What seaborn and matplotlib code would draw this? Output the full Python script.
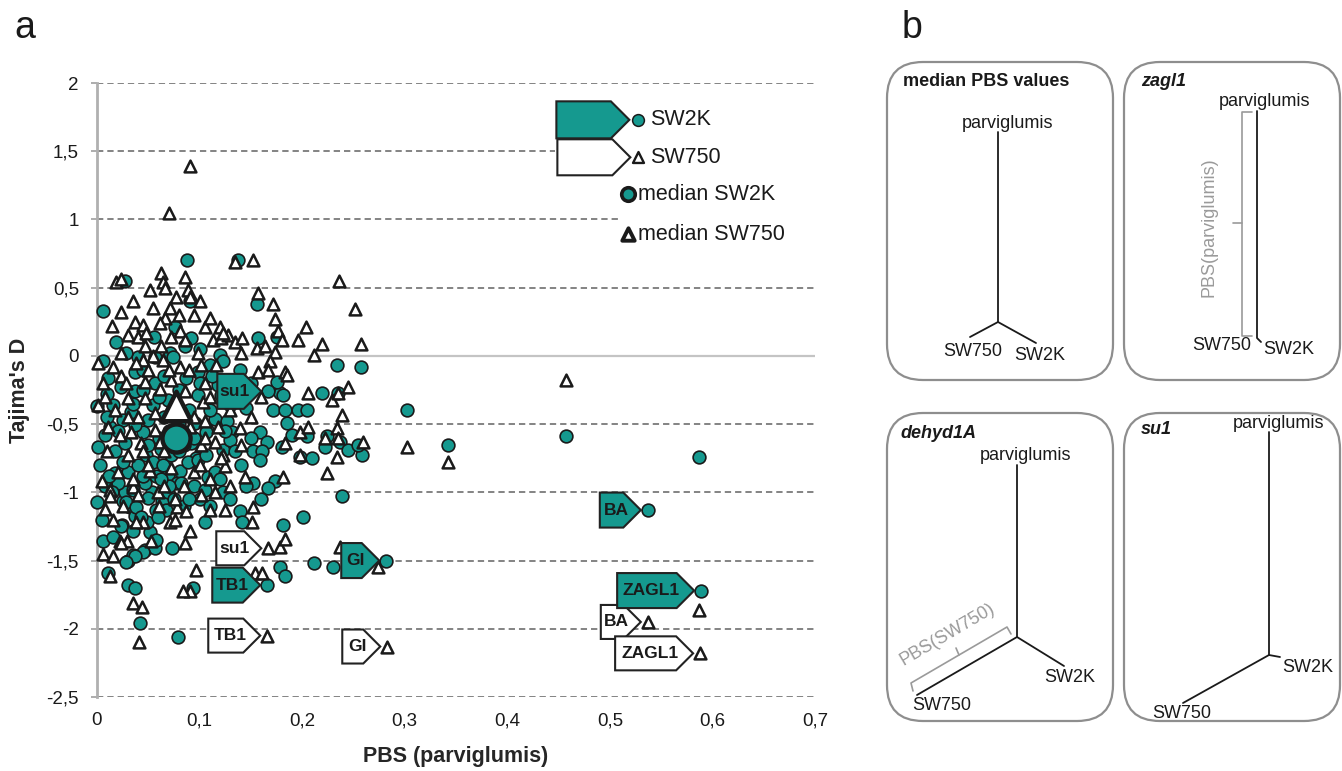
import matplotlib
matplotlib.use("Agg")
import matplotlib.pyplot as plt
import seaborn as sns
import pandas as pd
from matplotlib.patches import Polygon, FancyBboxPatch, Rectangle
from matplotlib import transforms

# ---------------- data ----------------
# SW2K (circles): (PBS parviglumis, Tajima's D)
sw2k_points = [
    (0.088, 0.70), (0.027, 0.55), (0.137, 0.70), (0.006, 0.33), (0.091, 0.40), (0.156, 0.38),
    (0.157, 0.13), (0.175, 0.14), (0.234, -0.07), (0.257, -0.08), (0.302, -0.40), (0.342, -0.65),
    (0.457, -0.59), (0.587, -0.74),
    (0.019, 0.10), (0.056, 0.14), (0.076, 0.21), (0.092, 0.13), (0.071, 0.02), (0.040, -0.01),
    (0.086, 0.07), (0.120, 0.01), (0.139, -0.10), (0.219, -0.27), (0.235, -0.27), (0.172, -0.40),
    (0.183, -0.40), (0.196, -0.40), (0.205, -0.40), (0.185, -0.49), (0.159, -0.56), (0.166, -0.63),
    (0.152, -0.70), (0.161, -0.70), (0.180, -0.67), (0.205, -0.59), (0.222, -0.67), (0.237, -0.63),
    (0.245, -0.69), (0.258, -0.73), (0.198, -0.74), (0.115, -0.46), (0.127, -0.48), (0.132, -0.56),
    (0.107, -0.54), (0.097, -0.75), (0.123, -0.69), (0.178, -0.27), (0.175, -0.19), (0.181, -0.29),
    (0.224, -0.59), (0.254, -0.65), (0.159, -0.76), (0.174, -0.92), (0.167, -0.97), (0.152, -0.93),
    (0.123, -1.00), (0.239, -1.03), (0.130, -0.62),
    (0.003, -0.80), (0.008, -0.95), (0.000, -1.07), (0.018, -0.86), (0.025, -1.06), (0.032, -1.11),
    (0.005, -1.20), (0.024, -1.24), (0.037, -1.17), (0.052, -1.29), (0.006, -1.36), (0.016, -1.33),
    (0.030, -1.50), (0.035, -1.46), (0.047, -1.42), (0.057, -1.41), (0.073, -1.41), (0.058, -1.35),
    (0.049, -1.22), (0.058, -1.13), (0.063, -1.06), (0.069, -1.00), (0.027, -1.00), (0.054, -1.00),
    (0.069, -0.87), (0.078, -0.93), (0.081, -0.84), (0.139, -1.14), (0.141, -1.22), (0.105, -1.22),
    (0.181, -1.24), (0.201, -1.18), (0.178, -1.55), (0.183, -1.61), (0.212, -1.52), (0.230, -1.55),
    (0.011, -1.59), (0.030, -1.68), (0.037, -1.70), (0.094, -1.70), (0.042, -1.96), (0.079, -2.06),
    (0.037, -0.12), (0.011, -0.16), (0.057, -0.01), (0.074, -0.01), (0.098, -0.29), (0.001, -0.67),
    (0.018, -0.70), (0.027, -0.64), (0.048, -0.73), (0.055, -0.78), (0.064, -0.80), (0.072, -0.73),
    (0.089, -0.78), (0.098, -0.76), (0.106, -0.73), (0.096, -0.49), (0.106, -0.56), (0.092, -0.64),
    (0.025, -0.47), (0.016, -0.36), (0.033, -0.41), (0.045, -0.56), (0.037, -0.51), (0.055, -0.36),
    (0.023, -0.23), (0.037, -0.26), (0.057, -0.20), (0.069, -0.32), (0.087, -0.16), (0.098, -0.12),
    (0.110, -0.07), (0.123, -0.04), (0.118, -0.21), (0.130, -0.36), (0.121, -0.29), (0.006, -0.04),
    (0.000, -0.37),
    (0.020, -0.93), (0.028, -1.07), (0.038, -1.11), (0.067, -1.13), (0.059, -1.18), (0.043, -1.18),
    (0.023, -1.25), (0.035, -1.28), (0.045, -1.44), (0.037, -1.47), (0.028, -1.51), (0.082, -0.93),
    (0.047, -0.93), (0.108, -0.89), (0.050, -1.04),
    (0.065, -0.45), (0.080, -0.50), (0.085, -0.65), (0.060, -0.60), (0.110, -0.40), (0.115, -0.85),
    (0.095, -0.95), (0.013, -0.52), (0.010, -0.28), (0.045, -0.88), (0.030, -0.85), (0.075, -1.05),
    (0.085, -1.10), (0.100, -1.05), (0.140, -0.80), (0.145, -0.38), (0.150, -0.20), (0.190, -0.58),
    (0.210, -0.75), (0.160, -1.05), (0.015, -1.00), (0.062, -0.68), (0.070, -0.55), (0.050, -0.47),
    (0.010, -0.45), (0.020, -0.55), (0.035, -0.35), (0.045, -0.25), (0.060, -0.30), (0.075, -0.40),
    (0.090, -0.40), (0.100, -0.20), (0.112, -0.15), (0.125, -0.55), (0.120, -0.90), (0.105, -0.98),
    (0.090, -1.05), (0.070, -0.95), (0.058, -0.88), (0.040, -0.80), (0.025, -0.78), (0.012, -0.88),
    (0.008, -0.58), (0.050, -0.65), (0.080, -0.70), (0.095, -0.60), (0.065, -0.15), (0.080, -0.25),
    (0.045, -0.10), (0.028, 0.02), (0.100, 0.05), (0.062, -0.90), (0.035, -0.98), (0.110, -1.10),
    (0.130, -1.05), (0.145, -0.95), (0.135, -0.70), (0.150, -0.60),
]

# SW750 (triangles)
sw750_points = [
    (0.091, 1.39), (0.070, 1.05), (0.152, 0.70), (0.135, 0.69), (0.236, 0.55), (0.252, 0.34),
    (0.257, 0.09), (0.212, 0.01), (0.219, 0.09), (0.457, -0.18), (0.302, -0.67), (0.342, -0.78),
    (0.274, -1.55), (0.587, -1.86),
    (0.019, 0.54), (0.023, 0.56), (0.062, 0.61), (0.064, 0.54), (0.052, 0.48), (0.066, 0.50),
    (0.086, 0.58), (0.089, 0.48), (0.091, 0.43), (0.077, 0.43), (0.071, 0.35), (0.066, 0.28),
    (0.023, 0.32), (0.037, 0.25), (0.045, 0.23), (0.030, 0.15), (0.040, 0.14), (0.048, 0.17),
    (0.061, 0.24), (0.072, 0.14), (0.081, 0.18), (0.086, 0.12), (0.105, 0.21), (0.120, 0.21),
    (0.113, 0.12), (0.121, 0.13), (0.128, 0.15), (0.135, 0.10), (0.047, 0.07), (0.023, 0.02),
    (0.062, 0.07), (0.098, 0.02),
    (0.157, 0.46), (0.172, 0.38), (0.174, 0.27), (0.204, 0.21), (0.176, 0.18), (0.180, 0.12),
    (0.196, 0.12), (0.141, 0.13), (0.156, 0.06), (0.164, 0.07), (0.174, 0.03), (0.123, 0.17),
    (0.169, -0.04), (0.183, -0.12), (0.157, -0.12), (0.167, -0.10),
    (0.185, -0.14), (0.206, -0.27), (0.229, -0.32), (0.235, -0.27), (0.245, -0.23), (0.239, -0.43),
    (0.198, -0.56), (0.206, -0.52), (0.234, -0.53), (0.235, -0.60), (0.222, -0.60), (0.259, -0.63),
    (0.183, -0.64), (0.198, -0.73), (0.234, -0.74), (0.224, -0.86), (0.144, -0.89), (0.181, -0.89),
    (0.139, -0.53), (0.123, -0.73), (0.125, -0.81), (0.152, -1.11),
    (0.013, -0.98), (0.035, -0.96), (0.040, -1.02), (0.016, -1.20), (0.045, -1.22), (0.022, -1.36),
    (0.029, -1.36), (0.006, -1.45), (0.016, -1.47), (0.013, -1.61), (0.035, -1.81), (0.044, -1.84),
    (0.041, -2.10), (0.086, -1.37), (0.091, -1.28), (0.097, -1.57), (0.091, -1.72), (0.084, -1.72),
    (0.110, -1.13), (0.125, -1.13), (0.151, -1.22), (0.178, -1.40), (0.183, -1.34), (0.154, -1.59),
    (0.161, -1.59), (0.237, -1.40), (0.052, -0.84), (0.071, -1.22), (0.078, -1.11), (0.005, -0.92),
    (0.001, -0.05), (0.016, -0.08), (0.023, -0.15), (0.006, -0.20), (0.001, -0.36), (0.045, -0.03),
    (0.064, -0.03), (0.081, -0.08), (0.101, -0.07), (0.116, -0.07), (0.047, -0.19), (0.061, -0.24),
    (0.072, -0.18), (0.086, -0.26), (0.105, -0.20), (0.103, -0.34), (0.047, -0.31), (0.030, -0.31),
    (0.057, -0.42), (0.040, -0.45), (0.011, -0.52), (0.022, -0.58), (0.033, -0.56), (0.057, -0.54),
    (0.061, -0.63), (0.043, -0.64), (0.091, -0.52), (0.086, -0.42), (0.105, -0.48), (0.118, -0.52),
    (0.115, -0.63), (0.101, -0.65), (0.030, -0.73), (0.072, -0.82), (0.121, -0.75), (0.050, -0.80),
    (0.013, -1.03), (0.059, -1.00), (0.076, -1.05), (0.101, -1.02), (0.038, -1.22), (0.076, -1.20),
    (0.087, -1.14), (0.023, -1.37), (0.053, -1.36),
    (0.010, -0.70), (0.080, -0.35), (0.095, -0.85), (0.110, -0.90), (0.065, -0.95), (0.030, -0.45),
    (0.130, -0.40), (0.140, -0.25), (0.150, -0.45), (0.160, -0.30), (0.095, 0.30), (0.110, 0.28),
    (0.140, 0.02),
    (0.008, -0.30), (0.018, -0.40), (0.028, -0.20), (0.038, -0.05), (0.055, 0.00), (0.070, -0.10),
    (0.090, -0.10), (0.110, -0.30), (0.125, -0.25), (0.095, -0.45), (0.075, -0.55), (0.065, -0.70),
    (0.045, -0.70), (0.020, -0.85), (0.035, -0.90), (0.085, -0.95), (0.100, -0.80), (0.115, -1.00),
    (0.060, -1.10), (0.025, -1.10), (0.008, -1.12), (0.050, -0.10), (0.015, 0.22), (0.055, 0.35),
    (0.080, 0.30), (0.100, 0.40), (0.035, 0.40), (0.130, -0.95), (0.140, -0.65), (0.105, -0.60),
]

# labelled candidate genes
genes = ["su1", "TB1", "GI", "BA", "ZAGL1"]
genes_sw2k_pbs = [0.167, 0.166, 0.282, 0.537, 0.589]
genes_sw2k_tajd = [-0.26, -1.68, -1.50, -1.13, -1.72]
genes_sw750_pbs = [0.167, 0.166, 0.283, 0.537, 0.588]
genes_sw750_tajd = [-1.41, -2.05, -2.13, -1.95, -2.18]

# medians
median_sw2k = (0.077, -0.60)
median_sw750 = (0.077, -0.37)

x_ticks = [0, 0.1, 0.2, 0.3, 0.4, 0.5, 0.6, 0.7]
x_ticklabels = ["0", "0,1", "0,2", "0,3", "0,4", "0,5", "0,6", "0,7"]
y_ticks = [2, 1.5, 1, 0.5, 0, -0.5, -1, -1.5, -2, -2.5]
y_ticklabels = ["2", "1,5", "1", "0,5", "0", "-0,5", "-1", "-1,5", "-2", "-2,5"]

# ---------------- style ----------------
TEAL = "#15998F"
EDGE = "#1a1a1a"
GRAYBOX = "#8e8e8e"
sns.set_theme(style="white")
plt.rcParams["font.family"] = ["Liberation Sans", "DejaVu Sans"]

W, H = 1342, 771
fig = plt.figure(figsize=(W / 100, H / 100), dpi=100)
bg = fig.add_axes([0, 0, 1, 1])
bg.set_xlim(0, W)
bg.set_ylim(H, 0)
bg.axis("off")

ax = fig.add_axes([97 / W, 1 - 697 / H, 718 / W, 614 / H])

df2k = pd.DataFrame(sw2k_points + list(zip(genes_sw2k_pbs, genes_sw2k_tajd)), columns=["pbs", "tajd"])
df750 = pd.DataFrame(sw750_points + list(zip(genes_sw750_pbs, genes_sw750_tajd)), columns=["pbs", "tajd"])

sns.scatterplot(data=df2k, x="pbs", y="tajd", ax=ax, marker="o", s=84, color=TEAL,
                edgecolor=EDGE, linewidth=1.2, zorder=3, clip_on=False, legend=False)
sns.scatterplot(data=df750, x="pbs", y="tajd", ax=ax, marker="^", s=72, color="white",
                edgecolor=EDGE, linewidth=1.8, zorder=3.1, clip_on=False, legend=False)
ax.scatter([median_sw750[0]], [median_sw750[1]], marker="^", s=450, c="white",
           edgecolors=EDGE, linewidths=3.2, zorder=6)
ax.scatter([median_sw2k[0]], [median_sw2k[1]], marker="o", s=410, c=TEAL,
           edgecolors=EDGE, linewidths=3.2, zorder=6)

ax.set_xlim(0, 0.7)
ax.set_ylim(-2.5, 2)
ax.set_xticks(x_ticks)
ax.set_xticklabels(x_ticklabels)
ax.set_yticks(y_ticks)
ax.set_yticklabels(y_ticklabels)
ax.tick_params(axis="x", length=0, pad=11, labelsize=13.5, colors="#1a1a1a")
ax.tick_params(axis="y", length=4, width=1.2, color="#a0a0a0", pad=9, labelsize=13.5,
               labelcolor="#1a1a1a", left=True)
for yv in y_ticks:
    if yv == 0:
        ax.axhline(yv, color="#c4c4c4", lw=1.6, zorder=1)
    else:
        ax.axhline(yv, color="#7a7a7a", lw=1.3, ls=(0, (3.5, 2.2)), zorder=1)
for s in ["top", "right", "bottom"]:
    ax.spines[s].set_visible(False)
ax.spines["left"].set_color("#b0b0b0")
ax.spines["left"].set_linewidth(2)
ax.set_xlabel("PBS (parviglumis)", fontsize=15.5, fontweight="bold", labelpad=12)
ax.set_ylabel("Tajima's D", fontsize=15.5, fontweight="bold", labelpad=12)


def tag(x, y, label, filled, w, h=34, gap=7, trans=None, fontsize=12.5):
    """pentagon ('home plate') label pointing right at (x, y); sizes in pixels"""
    trans = trans if trans is not None else ax.transData
    t = fig.dpi_scale_trans + transforms.ScaledTranslation(x, y, trans)
    tip = -gap
    L = h / 2
    verts = [(tip - w, -h / 2), (tip - L, -h / 2), (tip, 0), (tip - L, h / 2), (tip - w, h / 2)]
    verts = [(a / 100, b / 100) for a, b in verts]
    ax.add_patch(Polygon(verts, closed=True, facecolor=TEAL if filled else "white",
                         edgecolor="#222222", lw=1.5, transform=t, zorder=7, clip_on=False))
    if label:
        cx = (tip - w + (w - L * 0.5) / 2) / 100
        ax.text(cx, 0, label, transform=t, ha="center", va="center", fontsize=fontsize,
                fontweight="bold", color="#1a1a1a", zorder=8)


sw2k_w = {"su1": 44, "TB1": 48, "GI": 38, "BA": 41, "ZAGL1": 77}
sw750_w = {"su1": 45, "TB1": 52, "GI": 38, "BA": 40, "ZAGL1": 78}
for g, xp, yp in zip(genes, genes_sw750_pbs, genes_sw750_tajd):
    tag(xp, yp, g, False, sw750_w[g])
for g, xp, yp in zip(genes, genes_sw2k_pbs, genes_sw2k_tajd):
    tag(xp, yp, g, True, sw2k_w[g], h=35)

# ---------------- legend (drawn by hand) ----------------
ax.add_patch(Rectangle((0.638, 0.839), 0.37, 0.141, transform=ax.transAxes, facecolor="white",
                       edgecolor="none", zorder=1.5))
ax.add_patch(Rectangle((0.728, 0.715), 0.28, 0.126, transform=ax.transAxes, facecolor="white",
                       edgecolor="none", zorder=1.5))
tag(0.754, 0.940, None, True, 73, h=37, gap=9, trans=ax.transAxes)
tag(0.754, 0.879, None, False, 73, h=36, gap=8, trans=ax.transAxes)
ax.scatter([0.754], [0.940], marker="o", s=72, c=TEAL, edgecolors=EDGE, linewidths=1.1,
           transform=ax.transAxes, zorder=8, clip_on=False)
ax.scatter([0.753], [0.879], marker="^", s=62, c="white", edgecolors=EDGE, linewidths=1.7,
           transform=ax.transAxes, zorder=8, clip_on=False)
ax.scatter([0.740], [0.819], marker="o", s=95, c=TEAL, edgecolors=EDGE, linewidths=2.6,
           transform=ax.transAxes, zorder=8, clip_on=False)
ax.scatter([0.740], [0.754], marker="^", s=80, c="white", edgecolors=EDGE, linewidths=2.8,
           transform=ax.transAxes, zorder=8, clip_on=False)
leg_fs = 15.5
ax.text(0.770, 0.940, "SW2K", transform=ax.transAxes, va="center", ha="left", fontsize=leg_fs, color="#1a1a1a", zorder=8)
ax.text(0.770, 0.879, "SW750", transform=ax.transAxes, va="center", ha="left", fontsize=leg_fs, color="#1a1a1a", zorder=8)
ax.text(0.753, 0.819, "median SW2K", transform=ax.transAxes, va="center", ha="left", fontsize=leg_fs, color="#1a1a1a", zorder=8)
ax.text(0.753, 0.754, "median SW750", transform=ax.transAxes, va="center", ha="left", fontsize=leg_fs, color="#1a1a1a", zorder=8)

# ---------------- panel letters ----------------
bg.text(14, 28, "a", fontsize=27, va="center", ha="left", color="#1a1a1a")
bg.text(902, 28, "b", fontsize=27, va="center", ha="left", color="#1a1a1a")

# ---------------- panel b: schematic trees ----------------
boxes = [(887, 62, 226, 318), (1124, 62, 216, 318), (887, 413, 226, 308), (1124, 413, 216, 308)]
for bx, by, bw, bh in boxes:
    bg.add_patch(FancyBboxPatch((bx, by), bw, bh, boxstyle="round,pad=0,rounding_size=36",
                                facecolor="white", edgecolor=GRAYBOX, lw=1.6))

fs_b = 13
tk = "#1a1a1a"
gray = "#9a9a9a"
lw_t = 1.3

# box 1: median PBS values
bg.text(903, 82, "median PBS values", fontsize=fs_b, fontweight="bold", va="center", ha="left", color=tk)
bg.text(1008, 123, "parviglumis", fontsize=fs_b, va="center", ha="center", color=tk)
bg.plot([998, 998], [132, 322], color=tk, lw=lw_t)
bg.plot([970, 998, 1036], [337, 322, 343], color=tk, lw=lw_t)
bg.text(973, 352, "SW750", fontsize=fs_b, va="center", ha="center", color=tk)
bg.text(1040, 355, "SW2K", fontsize=fs_b, va="center", ha="center", color=tk)

# box 2: zagl1
bg.text(1141, 82, "zagl1", fontsize=fs_b, fontweight="bold", style="italic", va="center", ha="left", color=tk)
bg.text(1265, 101, "parviglumis", fontsize=fs_b, va="center", ha="center", color=tk)
bg.plot([1257, 1257, 1261], [111, 338, 342], color=tk, lw=lw_t)
bg.plot([1252, 1242, 1242, 1252], [112, 112, 336, 336], color=gray, lw=1.2)
bg.plot([1242, 1233], [223, 223], color=gray, lw=1.2)
bg.text(1209, 227, "PBS(parviglumis)", fontsize=fs_b, rotation=90, va="center", ha="center", color=gray)
bg.text(1222, 345, "SW750", fontsize=fs_b, va="center", ha="center", color=tk)
bg.text(1289, 349, "SW2K", fontsize=fs_b, va="center", ha="center", color=tk)

# box 3: dehyd1A
bg.text(900, 433, "dehyd1A", fontsize=fs_b, fontweight="bold", style="italic", va="center", ha="left", color=tk)
bg.text(1026, 455, "parviglumis", fontsize=fs_b, va="center", ha="center", color=tk)
bg.plot([1017, 1017], [465, 637], color=tk, lw=lw_t)
bg.plot([917, 1017, 1064], [695, 637, 666], color=tk, lw=lw_t)
bg.plot([913, 911, 1007, 1011], [691, 683, 627, 634], color=gray, lw=1.2)
bg.plot([959, 956], [655, 648], color=gray, lw=1.2)
bg.text(947, 634, "PBS(SW750)", fontsize=fs_b, rotation=30.5, va="center", ha="center", color=gray)
bg.text(1070, 678, "SW2K", fontsize=fs_b, va="center", ha="center", color=tk)
bg.text(942, 705, "SW750", fontsize=fs_b, va="center", ha="center", color=tk)

# box 4: su1
bg.text(1141, 430, "su1", fontsize=fs_b, fontweight="bold", style="italic", va="center", ha="left", color=tk)
bg.text(1279, 423, "parviglumis", fontsize=fs_b, va="center", ha="center", color=tk)
bg.plot([1269, 1269], [432, 655], color=tk, lw=lw_t)
bg.plot([1183, 1269, 1280], [703, 655, 657], color=tk, lw=lw_t)
bg.text(1308, 668, "SW2K", fontsize=fs_b, va="center", ha="center", color=tk)
bg.text(1182, 714, "SW750", fontsize=fs_b, va="center", ha="center", color=tk)

fig.savefig("out.png", dpi=100)
